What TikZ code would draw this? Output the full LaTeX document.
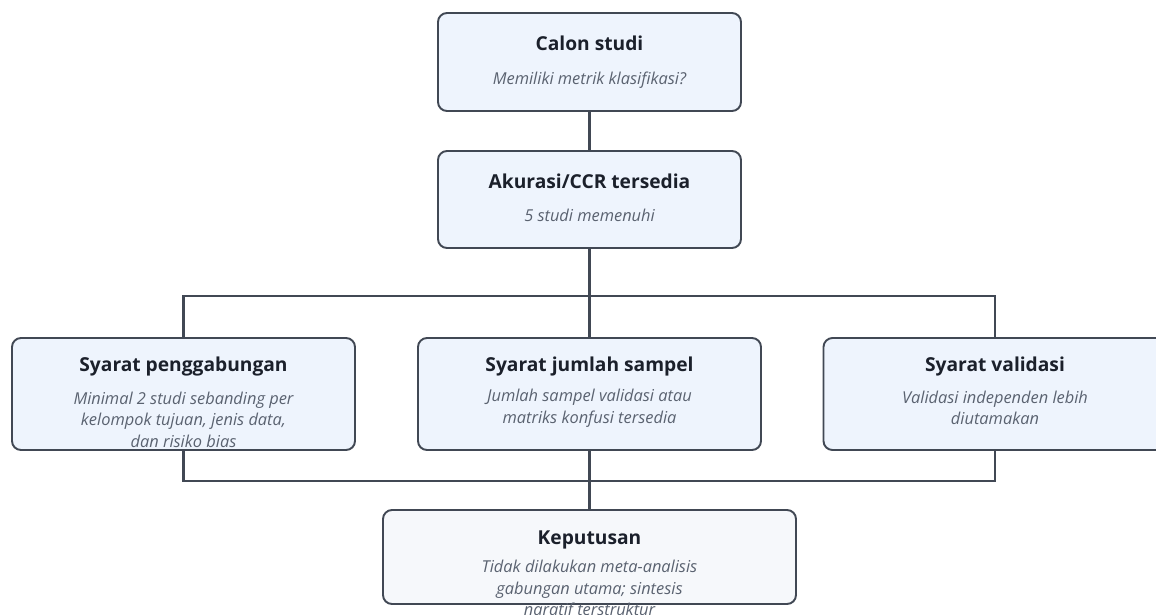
\documentclass[tikz,border=0pt]{standalone}
\usepackage{fontspec}
\setmainfont{Open Sans}
\definecolor{edge}{HTML}{414854}
\definecolor{boxfill}{HTML}{EEF4FD}
\definecolor{decfill}{HTML}{F6F8FB}
\definecolor{ttlc}{HTML}{1B202B}
\definecolor{subc}{HTML}{5A6270}
\begin{document}
\begin{tikzpicture}[x=1pt,y=-1pt,
  box/.style={draw=edge, line width=1.9pt, rounded corners=9pt, fill=boxfill, inner sep=0pt},
  ttl/.style={font=\bfseries\fontsize{19.2}{22}\selectfont, text=ttlc, inner sep=0pt},
  sub/.style={font=\itshape\fontsize{16.4}{21.5}\selectfont, text=subc, align=center, inner sep=0pt},
  conn/.style={draw=edge, line width=2.2pt}]
\useasboundingbox (0,0) rectangle (1156,614);
\clip (0,0) rectangle (1156,614);
\fill[white] (0,0) rectangle (1156,614);
% boxes
\node[box, minimum width=303pt, minimum height=98pt] (c1) at (589.5,62) {};
\node[box, minimum width=303pt, minimum height=97pt] (c2) at (589.5,199.5) {};
\node[box, minimum width=343pt, minimum height=112pt] (s1) at (183.5,394) {};
\node[box, minimum width=343pt, minimum height=112pt] (s2) at (589.5,394) {};
\node[box, minimum width=343pt, minimum height=112pt] (s3) at (995,394) {};
\node[box, fill=decfill, minimum width=413pt, minimum height=94pt] (dec) at (589.5,557) {};
% connectors
\coordinate (j1) at (589.5,296);
\coordinate (j2) at (589.5,481);
\draw[conn] (c1.south) -- (c2.north);
\draw[conn] (c2.south) -- (j1);
\draw[conn] (s1.north) |- (j1) -| (s3.north);
\draw[conn] (j1) -- (s2.north);
\draw[conn] (s1.south) |- (j2) -| (s3.south);
\draw[conn] (s2.south) -- (j2) -- (dec.north);
% texts
\node[ttl] (t1) at (589.5,43) {Calon studi};
\node[sub] (u1) at (589.5,80) {Memiliki metrik klasifikasi?};
\node[ttl] (t2) at (589.5,181) {Akurasi/CCR tersedia};
\node[sub] (u2) at (589.5,215) {5 studi memenuhi};
\node[ttl] (t3) at (183.5,367) {Syarat penggabungan};
\node[sub] (u3) at (183.5,419.5) {Minimal 2 studi sebanding per\\kelompok tujuan, jenis data,\\dan risiko bias};
\node[ttl] (t4) at (589.5,367) {Syarat jumlah sampel};
\node[sub] (u4) at (589.5,408) {Jumlah sampel validasi atau\\matriks konfusi tersedia};
\node[ttl] (t5) at (995,367) {Syarat validasi};
\node[sub] (u5) at (995,408) {Validasi independen lebih\\diutamakan};
\node[ttl] (t6) at (589.5,540) {Keputusan};
\node[sub] (u6) at (589.5,590) {Tidak dilakukan meta-analisis\\gabungan utama; sintesis\\naratif terstruktur};
\end{tikzpicture}
\end{document}
